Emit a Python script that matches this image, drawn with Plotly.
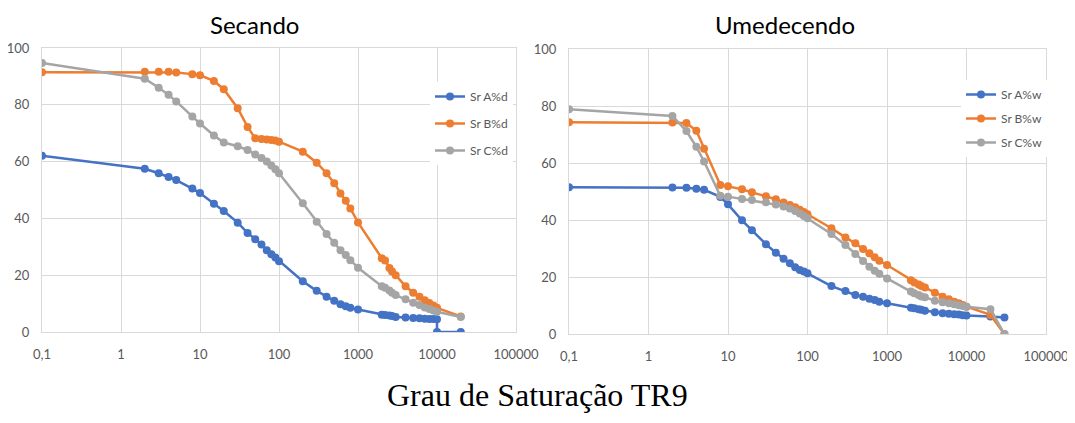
import plotly.graph_objects as go
from plotly.subplots import make_subplots

# tempo (eixo x, log) e grau de saturacao (%)
tempo_sec = [0.1, 2, 3, 4, 5, 8, 10, 15, 20, 30, 40, 50, 60, 70, 80, 90, 100,
             200, 300, 400, 500, 600, 700, 800, 1000, 2000, 2200, 2500, 2700, 3000,
             4000, 5000, 6000, 7000, 8000, 9000, 10000, 20000]
tempo_a_sec = [0.1, 2, 3, 4, 5, 8, 10, 15, 20, 30, 40, 50, 60, 70, 80, 90, 100,
               200, 300, 400, 500, 600, 700, 800, 1000, 2000, 2200, 2500, 2700, 3000,
               4000, 5000, 6000, 7000, 8000, 9000, 10000, 10000, 20000]
sr_a_d = [62.1, 57.5, 55.9, 54.6, 53.5, 50.5, 48.9, 45.2, 42.6, 38.5, 34.9, 32.7, 30.8, 28.8,
          27.4, 26.2, 24.9, 17.9, 14.5, 12.4, 11.0, 9.8, 9.1, 8.5, 7.9, 6.1, 6.0, 5.8, 5.6, 5.3,
          5.1, 4.9, 4.8, 4.7, 4.6, 4.6, 4.5, 0, 0]
sr_b_d = [91.5, 91.6, 91.6, 91.6, 91.4, 90.8, 90.4, 88.4, 85.5, 78.8, 72.2, 68.2, 68.0, 67.8,
          67.6, 67.4, 67.0, 63.5, 59.6, 55.9, 52.4, 48.8, 46.2, 43.5, 38.6, 26.0, 25.2, 22.5,
          21.3, 20.0, 16.1, 13.8, 12.4, 11.2, 10.2, 9.3, 8.5, 5.5]
sr_c_d = [94.7, 89.2, 86.0, 83.5, 81.2, 75.9, 73.4, 69.2, 66.7, 65.4, 64.1, 62.5, 61.3, 60.0,
          58.6, 57.3, 55.9, 45.3, 38.8, 34.5, 31.4, 28.8, 27.1, 25.3, 22.6, 16.1, 15.6, 14.6,
          13.8, 13.0, 11.5, 10.3, 9.5, 8.6, 8.1, 7.6, 7.1, 5.3]

tempo_ume = [0.1, 2, 3, 4, 5, 8, 10, 15, 20, 30, 40, 50, 60, 70, 80, 90, 100,
             200, 300, 400, 500, 600, 700, 800, 1000, 2000, 2200, 2500, 2700, 3000,
             4000, 5000, 6000, 7000, 8000, 9000, 10000, 20000, 30000]
sr_a_w = [51.5, 51.4, 51.3, 51.0, 50.6, 48.1, 45.5, 39.9, 36.4, 31.5, 28.5, 26.4, 24.8, 23.4,
          22.5, 21.9, 21.3, 16.8, 15.1, 13.7, 13.1, 12.4, 11.9, 11.3, 10.8, 9.2, 9.0, 8.7, 8.5,
          8.2, 7.6, 7.3, 7.1, 6.9, 6.8, 6.6, 6.5, 6.1, 5.8]
sr_b_w = [74.3, 74.2, 74.0, 71.3, 65.0, 52.3, 51.8, 50.8, 49.7, 48.3, 47.3, 46.1, 45.3, 44.5,
          43.6, 42.8, 42.0, 37.1, 33.9, 31.8, 29.8, 28.3, 26.9, 25.7, 24.2, 18.9, 18.1, 17.4,
          16.8, 16.3, 14.5, 13.1, 12.2, 11.3, 10.8, 10.2, 9.6, 6.7, 0]
sr_c_w = [78.9, 76.5, 71.2, 65.7, 60.5, 48.5, 48.2, 47.4, 47.0, 46.2, 45.4, 44.7, 44.0, 43.2,
          42.3, 41.4, 40.6, 35.1, 31.2, 28.1, 25.6, 23.6, 22.2, 21.1, 19.5, 14.9, 14.3, 13.7,
          13.2, 12.9, 11.7, 11.1, 10.8, 10.4, 10.1, 9.8, 9.6, 8.7, 0]

x_ticks = [0.1, 1, 10, 100, 1000, 10000, 100000]
x_labels = ["0,1", "1", "10", "100", "1000", "10000", "100000"]
y_ticks = [0, 20, 40, 60, 80, 100]

AZUL, LARANJA, CINZA = "#4472C4", "#ED7D31", "#A5A5A5"
TXT = "#595959"
GRID = "#D9D9D9"
FONTE = "Lato"
W, H = 1075, 423
OFF = 8  # margem do body da pagina


def px(x):
    return (x - OFF) / W


def py(y):
    return 1 - (y - OFF) / H


fig = make_subplots(rows=1, cols=2)

series = [
    (tempo_a_sec, sr_a_d, "Sr A%d", AZUL, 1, "legend"),
    (tempo_sec, sr_b_d, "Sr B%d", LARANJA, 1, "legend"),
    (tempo_sec, sr_c_d, "Sr C%d", CINZA, 1, "legend"),
    (tempo_ume, sr_a_w, "Sr A%w", AZUL, 2, "legend2"),
    (tempo_ume, sr_b_w, "Sr B%w", LARANJA, 2, "legend2"),
    (tempo_ume, sr_c_w, "Sr C%w", CINZA, 2, "legend2"),
]
for x, y, nome, cor, col, leg in series:
    fig.add_trace(go.Scatter(
        x=x, y=y, name=nome, mode="lines+markers",
        line=dict(color=cor, width=2.5),
        marker=dict(color=cor, size=8),
        legend=leg, legendgroup=nome,
    ), row=1, col=col)

eixo_x = dict(type="log", range=[-1, 5], tickvals=x_ticks, ticktext=x_labels,
              showgrid=True, gridcolor=GRID, gridwidth=1, zeroline=False,
              showline=True, linecolor=GRID, mirror=True, ticks="",
              ticklabelstandoff=10, automargin=False,
              tickfont=dict(family=FONTE, size=13, color=TXT))
eixo_y = dict(range=[0, 100], tickvals=y_ticks, showgrid=True, gridcolor=GRID,
              gridwidth=1, zeroline=False, showline=True, linecolor=GRID, mirror=True,
              ticks="", ticklabelstandoff=9, automargin=False,
              tickfont=dict(family=FONTE, size=13, color=TXT))

fig.update_xaxes(**eixo_x)
fig.update_yaxes(**eixo_y)
fig.update_layout(
    xaxis=dict(domain=[px(42), px(516)]),
    xaxis2=dict(domain=[px(569), px(1046)]),
    yaxis=dict(domain=[py(332), py(48)]),
    yaxis2=dict(domain=[py(334), py(49)]),
)

leg_base = dict(bgcolor="white", borderwidth=0, xanchor="left", yanchor="top",
                font=dict(family=FONTE, size=12, color=TXT))
titulo = dict(xref="paper", yref="paper", showarrow=False,
              xanchor="center", yanchor="middle")
fig.update_layout(
    width=W, height=H,
    margin=dict(l=0, r=0, t=0, b=0, autoexpand=False),
    paper_bgcolor="white", plot_bgcolor="white",
    legend=dict(x=px(430), y=py(82), tracegroupgap=8, **leg_base),
    legend2=dict(x=px(961), y=py(80), tracegroupgap=5, **leg_base),
    annotations=[
        dict(text="Secando", x=px(254), y=py(24),
             font=dict(family=FONTE, size=24, color="black"), **titulo),
        dict(text="Umedecendo", x=px(785), y=py(25),
             font=dict(family=FONTE, size=24, color="black"), **titulo),
        dict(text="Grau de Saturação TR9", x=px(537), y=py(395),
             font=dict(family="Liberation Serif", size=32, color="black"), **titulo),
    ],
)

fig.write_html("out.html")
